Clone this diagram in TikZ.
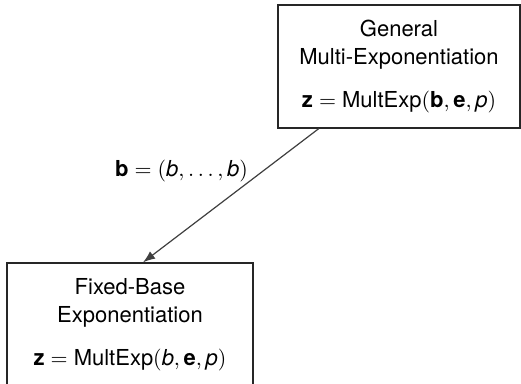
\documentclass[tikz,border=0pt]{standalone}
\usepackage{fontspec}
\setmainfont{TeX Gyre Heros}
\usetikzlibrary{arrows.meta,calc}

\begin{document}
\begin{tikzpicture}[x=0.5pt,y=-0.5pt,
  font=\fontsize{11}{14}\selectfont,
  box/.style={draw=black!85,line width=0.7pt,minimum height=61.5pt,align=center},
  arr/.style={-{Latex[length=6pt,width=4.5pt]},line width=0.6pt,draw=black!75,fill=black!75}]
  \useasboundingbox (0,0) rectangle (521,384);

  \node[box,minimum width=121pt] (gen) at (399,66.5)
    {General\\Multi-Exponentiation\\[7.5pt]$\textbf{z} = \textrm{MultExp}(\textbf{b}, \textbf{e}, \textit{p})$};
  \node[box,minimum width=123pt] (fixed) at (130,324.5)
    {Fixed-Base\\Exponentiation\\[7.5pt]$\textbf{z} = \textrm{MultExp}(\textit{b}, \textbf{e}, \textit{p})$};

  \draw[arr] ($(gen.south west)!0.17!(gen.south east)$)
    -- node[pos=0.4,above left,inner sep=0pt] {$\textbf{b} = (\textit{b}, \ldots, \textit{b})$}
    ($(fixed.north west)!0.553!(fixed.north east)$);

\end{tikzpicture}
\end{document}
